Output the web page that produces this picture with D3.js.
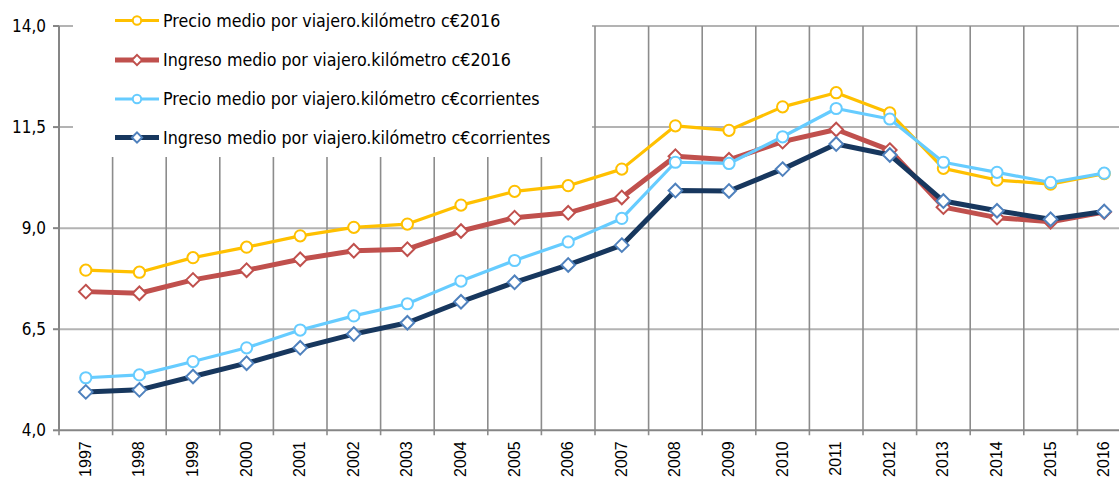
<!DOCTYPE html>
<html>
<head>
<meta charset="utf-8">
<script src="https://cdn.jsdelivr.net/npm/d3@7"></script>
<style>
  html, body { margin: 0; padding: 0; background: #fff; }
  svg { display: block; }
</style>
</head>
<body>
<svg id="chart" width="1119" height="478"></svg>
<script>
// Años de la serie
const years = ["1997","1998","1999","2000","2001","2002","2003","2004","2005","2006",
               "2007","2008","2009","2010","2011","2012","2013","2014","2015","2016"];

// Valores por serie (céntimos de euro por viajero.kilómetro)
const precio2016 = [7.96,7.91,8.27,8.53,8.81,9.02,9.10,9.57,9.91,10.05,
                    10.46,11.53,11.42,12.00,12.35,11.85,10.48,10.19,10.09,10.35];
const ingreso2016 = [7.43,7.39,7.72,7.96,8.23,8.44,8.48,8.93,9.26,9.38,
                     9.76,10.78,10.69,11.14,11.44,10.93,9.52,9.26,9.16,9.40];
const precioCorr = [5.30,5.37,5.70,6.04,6.48,6.83,7.13,7.69,8.20,8.66,
                    9.24,10.63,10.60,11.26,11.96,11.70,10.63,10.38,10.13,10.36];
const ingresoCorr = [4.95,5.00,5.33,5.66,6.04,6.38,6.66,7.18,7.66,8.09,
                     8.58,9.93,9.92,10.46,11.08,10.81,9.67,9.43,9.22,9.41];

// Marcas del eje vertical
const yTicks = [4.0, 6.5, 9.0, 11.5, 14.0];

const seriesNames = [
  "Precio medio por viajero.kilómetro c€2016",
  "Ingreso medio por viajero.kilómetro c€2016",
  "Precio medio por viajero.kilómetro c€corrientes",
  "Ingreso medio por viajero.kilómetro c€corrientes"
];

const series = [
  { name: seriesNames[0], values: precio2016,  line: "#FFC000", mark: "#FFC000", width: 3.2, shape: "circle" },
  { name: seriesNames[1], values: ingreso2016, line: "#C0504D", mark: "#C0504D", width: 5,   shape: "diamond" },
  { name: seriesNames[2], values: precioCorr,  line: "#66CCFF", mark: "#66CCFF", width: 3.2, shape: "circle" },
  { name: seriesNames[3], values: ingresoCorr, line: "#17375E", mark: "#4F81BD", width: 5,   shape: "diamond" }
];

const svg = d3.select("#chart");
const plotLeft = 59, plotTop = 26, plotBottom = 430.3, band = 53.6;

const x = d3.scaleBand().domain(years).range([plotLeft, plotLeft + band * years.length]).padding(0);
const y = d3.scaleLinear().domain([4, 14]).range([plotBottom, plotTop]);
const cx = d => x(d) + x.bandwidth() / 2;

const gridColor = "#8c8c8c";

// Rejilla horizontal
svg.append("g").selectAll("line").data(yTicks.filter(t => t > 4)).join("line")
  .attr("x1", plotLeft).attr("x2", 1139)
  .attr("y1", d => y(d)).attr("y2", d => y(d))
  .attr("stroke", "#b3b3b3").attr("stroke-width", 2);

// Rejilla vertical en los límites de cada año
svg.append("g").selectAll("line").data(years).join("line")
  .attr("x1", d => x(d) + x.bandwidth())
  .attr("x2", d => x(d) + x.bandwidth())
  .attr("y1", plotTop).attr("y2", plotBottom + 5)
  .attr("stroke", gridColor).attr("stroke-width", 1.6);

// Fondo de la leyenda, que tapa la rejilla
svg.append("rect").attr("x", 73).attr("y", 0).attr("width", 519).attr("height", 157).attr("fill", "#fff");

// Eje horizontal
const xAxis = svg.append("g");
xAxis.append("line").attr("x1", plotLeft).attr("x2", 1139).attr("y1", plotBottom).attr("y2", plotBottom)
  .attr("stroke", "#868686").attr("stroke-width", 2);
xAxis.append("line").attr("x1", plotLeft).attr("x2", plotLeft).attr("y1", plotBottom).attr("y2", plotBottom + 5)
  .attr("stroke", "#868686").attr("stroke-width", 1.6);
xAxis.selectAll("text").data(years).join("text")
  .attr("transform", d => `translate(${cx(d) + 5},${plotBottom + 11}) rotate(-90)`)
  .attr("text-anchor", "end")
  .attr("font-family", "'Liberation Sans', Arial, sans-serif")
  .attr("font-size", 16)
  .attr("fill", "#000")
  .text(d => d);

// Eje vertical
const yAxis = svg.append("g");
yAxis.append("line").attr("x1", plotLeft).attr("x2", plotLeft).attr("y1", plotTop).attr("y2", plotBottom)
  .attr("stroke", "#868686").attr("stroke-width", 2);
yAxis.selectAll("line.tick").data(yTicks).join("line").attr("class", "tick")
  .attr("x1", plotLeft - 6).attr("x2", plotLeft)
  .attr("y1", d => y(d)).attr("y2", d => y(d))
  .attr("stroke", "#868686").attr("stroke-width", 2);
const fmt = d => d3.format(".1f")(d).replace(".", ",");
yAxis.selectAll("text").data(yTicks).join("text")
  .attr("x", plotLeft - 13).attr("y", d => y(d)).attr("dy", "0.36em")
  .attr("text-anchor", "end")
  .attr("font-family", "'DejaVu Sans Condensed', 'DejaVu Sans', sans-serif")
  .attr("font-size", 17)
  .attr("fill", "#000")
  .text(fmt);

// Marcadores
function drawMarker(g, s, px, py, k = 1) {
  if (s.shape === "circle") {
    g.append("circle").attr("cx", px).attr("cy", py).attr("r", 5.6 * k)
      .attr("fill", "#fff").attr("stroke", s.mark).attr("stroke-width", 2);
  } else {
    const r = 6.8 * k;
    g.append("path")
      .attr("d", `M${px},${py - r}L${px + r},${py}L${px},${py + r}L${px - r},${py}Z`)
      .attr("fill", "#fff").attr("stroke", s.mark).attr("stroke-width", 2);
  }
}

// Líneas de las series
const line = d3.line().x(d => cx(d.year)).y(d => y(d.v));
series.forEach(s => {
  const g = svg.append("g");
  const pts = years.map((yr, i) => ({ year: yr, v: s.values[i] }));
  g.append("path").datum(pts).attr("d", line)
    .attr("fill", "none").attr("stroke", s.line).attr("stroke-width", s.width)
    .attr("stroke-linejoin", "round");
  pts.forEach(p => drawMarker(g, s, cx(p.year), y(p.v)));
});

// Leyenda
const legend = svg.append("g");
const rowY = [20.5, 60, 99, 137.5];
series.forEach((s, i) => {
  const g = legend.append("g");
  g.append("line").attr("x1", 115).attr("x2", 159).attr("y1", rowY[i]).attr("y2", rowY[i])
    .attr("stroke", s.line).attr("stroke-width", s.width);
  drawMarker(g, s, 137, rowY[i], 0.75);
  g.append("text").attr("x", 163).attr("y", rowY[i]).attr("dy", "0.36em")
    .attr("font-family", "'DejaVu Sans Condensed', 'DejaVu Sans', sans-serif")
    .attr("font-size", 17.7)
    .attr("fill", "#000")
    .text(s.name);
});
</script>
</body>
</html>
